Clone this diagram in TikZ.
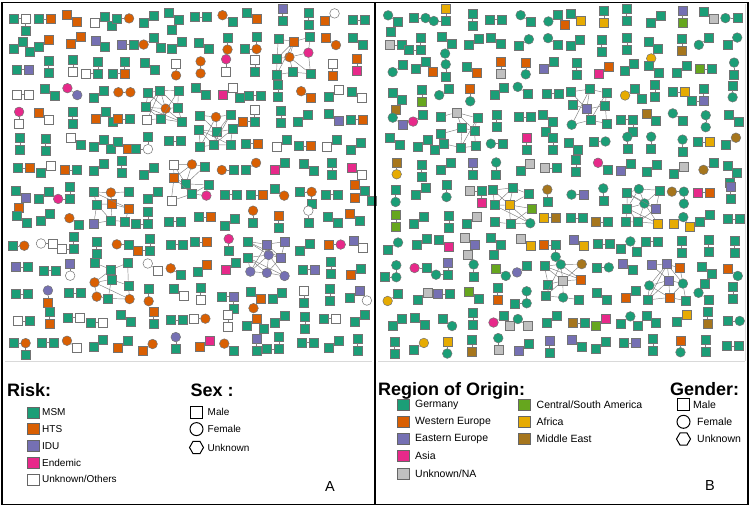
\documentclass[tikz,border=0pt]{standalone}
\usepackage{fontspec}
\setmainfont{Liberation Sans}
\usetikzlibrary{shapes.geometric}
\definecolor{cMSM}{HTML}{1B9E77}
\definecolor{cHTS}{HTML}{D95F02}
\definecolor{cIDU}{HTML}{7570B3}
\definecolor{cEND}{HTML}{E7298A}
\definecolor{cNA}{HTML}{C0C0C0}
\definecolor{cCSA}{HTML}{66A61E}
\definecolor{cAFR}{HTML}{E6AB02}
\definecolor{cME}{HTML}{A6761D}
\tikzset{
  nd/.style={inner sep=0pt, draw=black!55, line width=0.5pt},
  sq/.style={nd, rectangle, minimum size=9pt},
  ci/.style={nd, circle, minimum size=9.6pt},
  edge/.style={draw=black!50, line width=0.45pt},
  lgsq/.style={rectangle, inner sep=0pt, minimum width=12pt, minimum height=11pt, draw=black!60, line width=0.6pt},
  lgtxt/.style={inner sep=0pt, anchor=west, font=\fontsize{10}{12}\selectfont},
  lgtxtb/.style={inner sep=0pt, anchor=west, font=\fontsize{10.5}{12}\selectfont},
  lghead/.style={inner sep=0pt, anchor=base west, font=\bfseries\fontsize{18}{20}\selectfont},
  lgshape/.style={draw=black, line width=1pt, fill=white, inner sep=0pt},
}
% risk palette
\newcommand\pickA[2]{%
  \pgfmathtruncatemacro\rra{1000*rnd}%
  \pgfmathtruncatemacro\rrb{100*rnd}%
  \ifnum\rra<660 \def#1{sq}\def#2{cMSM}%
  \else\ifnum\rra<845 \def#2{cHTS}\ifnum\rrb<50 \def#1{ci}\else\def#1{sq}\fi
  \else\ifnum\rra<880 \def#2{cIDU}\ifnum\rrb<40 \def#1{ci}\else\def#1{sq}\fi
  \else\ifnum\rra<905 \def#2{cEND}\ifnum\rrb<60 \def#1{ci}\else\def#1{sq}\fi
  \else \def#2{white}\ifnum\rrb<20 \def#1{ci}\else\def#1{sq}\fi
  \fi\fi\fi\fi}
\newcommand\pickIDU[2]{%
  \pgfmathtruncatemacro\rra{100*rnd}%
  \ifnum\rra<55 \def#1{sq}\def#2{cIDU}%
  \else\ifnum\rra<88 \def#1{ci}\def#2{cIDU}%
  \else \def#1{sq}\def#2{cMSM}\fi\fi}
% origin palette
\newcommand\pickB[2]{%
  \pgfmathtruncatemacro\rra{1000*rnd}%
  \pgfmathtruncatemacro\rrb{100*rnd}%
  \ifnum\rrb<16 \def#1{ci}\else\def#1{sq}\fi
  \ifnum\rra<760 \def#2{cMSM}%
  \else\ifnum\rra<790 \def#2{cHTS}%
  \else\ifnum\rra<840 \def#2{cIDU}%
  \else\ifnum\rra<870 \def#2{cEND}%
  \else\ifnum\rra<910 \def#2{cNA}%
  \else\ifnum\rra<930 \def#2{cCSA}%
  \else\ifnum\rra<970 \def#2{cAFR}%
  \else \def#2{cME}%
  \fi\fi\fi\fi\fi\fi\fi}
\newcommand\skipblock[3]{%
  \expandafter\gdef\csname skip#1-#2-#3\endcsname{}%
  \expandafter\gdef\csname skip#1-\the\numexpr#2+1\relax-#3\endcsname{}%
  \expandafter\gdef\csname skip#1-#2-\the\numexpr#3+1\relax\endcsname{}%
  \expandafter\gdef\csname skip#1-\the\numexpr#2+1\relax-\the\numexpr#3+1\relax\endcsname{}}
\newcommand\clusterX[4]{%
  \foreach \k in {1,...,9}{%
    \pgfmathsetmacro\cpx{#2+16.5*(mod(\k-1,3)-1)+7*(rnd-0.5)}%
    \pgfmathsetmacro\cpy{#3+16*(int((\k-1)/3)-1)+7*(rnd-0.5)}%
    #4\sha\cola
    \node[\sha,fill=\cola] (#1-\k) at (\cpx,\cpy) {};
  }
  \foreach \u/\v in {1/2,2/3,4/5,5/6,7/8,8/9,2/5,5/8}{\draw[edge] (#1-\u) -- (#1-\v);}
  \foreach \u/\v in {1/4,4/7,3/6,6/9,1/5,5/9,3/5,5/7,2/4,2/6,4/8,6/8,1/6,4/9,2/7,3/8}{%
    \pgfmathtruncatemacro\ee{100*rnd}%
    \ifnum\ee<45 \draw[edge] (#1-\u) -- (#1-\v);\fi}
}
\newcommand\clusterAt[6]{% prefix, i, j, picker, x0, y0
  \skipblock{#1}{#2}{#3}%
  \pgfmathsetmacro\ccx{#5+12.95+25.9*(#2+0.5)}%
  \pgfmathsetmacro\ccy{#6+12.6+25.2*(#3+0.5)}%
  \clusterX{#1-cl-#2-#3}{\ccx}{\ccy}{#4}}
\newcommand\panel[4]{% prefix, x0, picker, y0
  \foreach \i in {0,...,13}{%
    \foreach \j in {0,...,13}{%
      \ifcsname skip#1-\i-\j\endcsname\else
        \pgfmathsetmacro\cx{#2+12.95+25.9*\i+6*(rnd-0.5)}%
        \pgfmathsetmacro\cy{#4+12.6+25.2*\j+6*(rnd-0.5)}%
        \pgfmathtruncatemacro\ori{4*rnd}%
        \ifcase\ori \def\th{0}\or\def\th{90}\or\def\th{35}\or\def\th{-35}\else\def\th{0}\fi
        \pgfmathsetmacro\tha{\th+180}%
        \pgfmathsetmacro\thc{\th+90}%
        #3\sha\cola
        #3\shb\colb
        \node[\sha,fill=\cola] (#1-\i-\j-a) at ([shift={(\tha:6)}]\cx,\cy) {};
        \node[\shb,fill=\colb] (#1-\i-\j-b) at ([shift={(\th:6)}]\cx,\cy) {};
        \draw[edge] (#1-\i-\j-a) -- (#1-\i-\j-b);
        \pgfmathtruncatemacro\tri{100*rnd}%
        \ifnum\tri<15
          #3\shc\colc
          \node[\shc,fill=\colc] (#1-\i-\j-c) at ([shift={(\thc:12)}]#1-\i-\j-b) {};
          \draw[edge] (#1-\i-\j-b) -- (#1-\i-\j-c);
        \fi
      \fi
    }}}
\begin{document}
\begin{tikzpicture}[x=1pt,y=-1pt]
\useasboundingbox (0,0) rectangle (750,507);
\fill[white] (0,0) rectangle (750,507);
% inner light lines
\draw[black!15, line width=0.8pt] (5,361) -- (372,361);
\draw[black!15, line width=0.8pt] (378,361) -- (745,361);
\draw[black!15, line width=0.8pt] (745,4) -- (745,361);
% ---------- panel A network ----------
\pgfmathsetseed{11}
\clusterAt{A}{5}{3}{\pickA}{8}{5}
\clusterAt{A}{7}{4}{\pickA}{8}{5}
\clusterAt{A}{6}{6}{\pickA}{8}{5}
\clusterAt{A}{3}{7}{\pickA}{8}{5}
\clusterAt{A}{9}{9}{\pickIDU}{8}{5}
\clusterAt{A}{10}{1}{\pickA}{8}{5}
\clusterAt{A}{3}{10}{\pickA}{8}{5}
\panel{A}{8}{\pickA}{5}
% ---------- panel B network ----------
\pgfmathsetseed{29}
\clusterAt{B}{7}{3}{\pickB}{382}{5}
\clusterAt{B}{2}{4}{\pickB}{382}{5}
\clusterAt{B}{4}{7}{\pickB}{382}{5}
\clusterAt{B}{9}{7}{\pickB}{382}{5}
\clusterAt{B}{6}{10}{\pickB}{382}{5}
\clusterAt{B}{10}{10}{\pickB}{382}{5}
\panel{B}{382}{\pickB}{5}
% ---------- frame ----------
\draw[line width=1.6pt] (2,2.5) rectangle (748,504.5);
\draw[line width=1.6pt] (375,2.5) -- (375,504.5);
% ---------- legend A ----------
\node[lghead] (riskT) at (7,396) {Risk:};
\node[lgsq, fill=cMSM] (lr1) at (33.3,412.3) {};
\node[lgtxt] (lt1) at (42,412.3) {MSM};
\node[lgsq, fill=cHTS] (lr2) at (33.3,429.1) {};
\node[lgtxt] (lt2) at (42,429.1) {HTS};
\node[lgsq, fill=cIDU] (lr3) at (33.3,445.9) {};
\node[lgtxt] (lt3) at (42,445.9) {IDU};
\node[lgsq, fill=cEND] (lr4) at (33.3,462.7) {};
\node[lgtxt] (lt4) at (42,462.7) {Endemic};
\node[lgsq, fill=white] (lr5) at (33.3,479.4) {};
\node[lgtxt] (lt5) at (42,479.4) {Unknown/Others};
\node[lghead] (sexT) at (190.5,396) {Sex :};
\node[lgshape, rectangle, minimum size=12pt] (ls1) at (196.5,412.3) {};
\node[lgtxt] (lst1) at (207.5,412.3) {Male};
\node[lgshape, circle, minimum size=13pt] (ls2) at (196.5,429.1) {};
\node[lgtxt] (lst2) at (207.5,429.1) {Female};
\node[lgshape, regular polygon, regular polygon sides=6, minimum size=14pt] (ls3) at (196.5,447.5) {};
\node[lgtxt] (lst3) at (207.5,447.5) {Unknown};
\node[inner sep=0pt, anchor=base west, font=\fontsize{14.5}{16}\selectfont] (labA) at (325,491.5) {A};
% ---------- legend B ----------
\node[lghead] (regT) at (378,395) {Region of Origin:};
\node[lgsq, fill=cMSM] (lb1) at (403.5,404.5) {};
\node[lgtxtb] (lbt1) at (415,404.5) {Germany};
\node[lgsq, fill=cHTS] (lb2) at (403.5,421.8) {};
\node[lgtxtb] (lbt2) at (415,421.8) {Western Europe};
\node[lgsq, fill=cIDU] (lb3) at (403.5,439) {};
\node[lgtxtb] (lbt3) at (415,439) {Eastern Europe};
\node[lgsq, fill=cEND] (lb4) at (403.5,456) {};
\node[lgtxtb] (lbt4) at (415,456) {Asia};
\node[lgsq, fill=cNA] (lb5) at (403.5,473.3) {};
\node[lgtxtb] (lbt5) at (415,473.3) {Unknown/NA};
\node[lgsq, fill=cCSA] (lb6) at (524.7,404.5) {};
\node[lgtxtb] (lbt6) at (536.5,404.5) {Central/South America};
\node[lgsq, fill=cAFR] (lb7) at (524.7,421.8) {};
\node[lgtxtb] (lbt7) at (536.5,421.8) {Africa};
\node[lgsq, fill=cME] (lb8) at (524.7,439) {};
\node[lgtxtb] (lbt8) at (536.5,439) {Middle East};
\node[lghead] (genT) at (670,395) {Gender:};
\node[lgshape, rectangle, minimum size=12pt] (lg1) at (683.5,404.5) {};
\node[lgtxtb] (lgt1) at (693,404.5) {Male};
\node[lgshape, circle, minimum size=13pt] (lg2) at (683.5,421.8) {};
\node[lgtxtb] (lgt2) at (697,421.8) {Female};
\node[lgshape, regular polygon, regular polygon sides=6, minimum size=14pt] (lg3) at (683.5,439) {};
\node[lgtxtb] (lgt3) at (697,439) {Unknown};
\node[inner sep=0pt, anchor=base west, font=\fontsize{14.5}{16}\selectfont] (labB) at (705,490.5) {B};
\end{tikzpicture}
\end{document}
